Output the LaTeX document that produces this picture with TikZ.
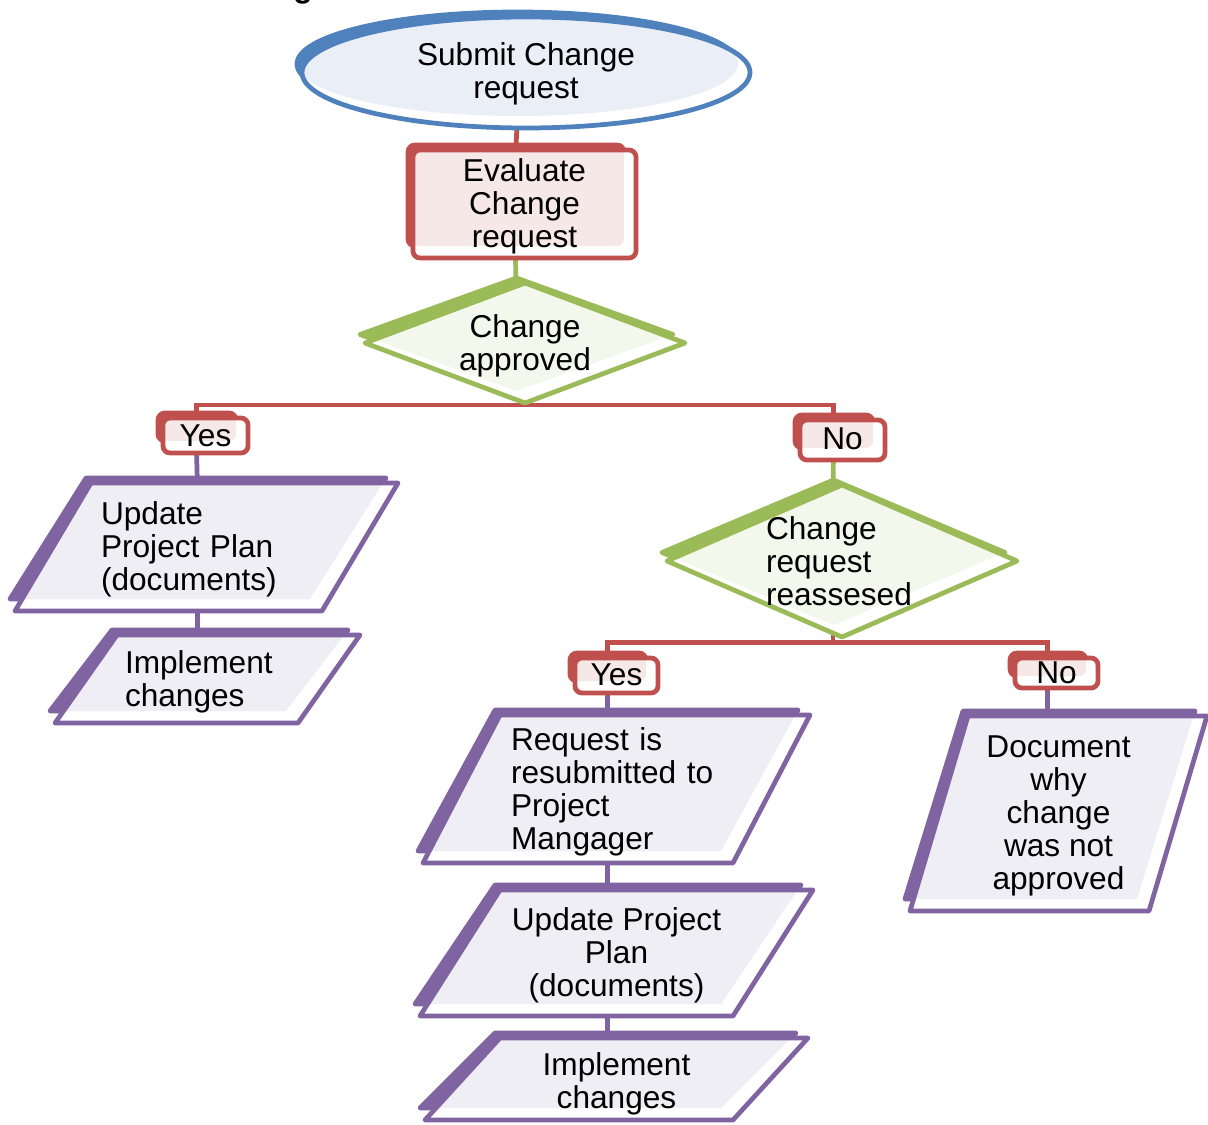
\documentclass[tikz,border=0pt]{standalone}
\usepackage{fontspec}
\setmainfont{Liberation Sans}
\usetikzlibrary{calc}
\pgfdeclarelayer{conn}
\pgfdeclarelayer{deco}
\pgfsetlayers{conn,deco,main}
\definecolor{paraCol}{HTML}{8064A2}
\definecolor{paraLight}{HTML}{F0EEF5}
\definecolor{diaCol}{HTML}{9BBB59}
\definecolor{diaLight}{HTML}{F3F7EC}
\definecolor{ellCol}{HTML}{4F81BD}
\definecolor{ellLight}{HTML}{EAEFF7}
\definecolor{rectCol}{HTML}{C0504D}
\definecolor{rectLight}{HTML}{F7E8E8}
\newcommand\lwd{0.095cm}
\newcommand\paraPath[6]{\path[#6] ({(#1)+(#5)},{#2}) -- ({#3},{#2}) -- ({(#3)-(#5)},{#4}) -- ({#1},{#4}) -- cycle;}
\newcommand\diaPath[6]{\path[#6] ({((#1)+(#3))/2},{#2}) -- ({#3},{((#2)+(#4))/2}) -- ({((#1)+(#3))/2},{#4}) -- ({#1},{((#2)+(#4))/2}) -- cycle;}
\newcommand\ellPath[6]{\path[#6] ({((#1)+(#3))/2},{((#2)+(#4))/2}) ellipse [x radius={((#3)-(#1))/2*0.02cm}, y radius={((#4)-(#2))/2*0.02cm}];}
\newcommand\rectPath[6]{\path[#6, rounded corners=0.14cm] ({#1},{#2}) rectangle ({#3},{#4});}
\newcommand\Deco[8]{%
  \begin{pgfonlayer}{deco}
    #1{(#2)-5}{(#3)-5}{(#4)-12}{(#5)-12}{#6}{fill=#7,draw=#7,line width=\lwd,line join=round}
    #1{#2}{#3}{#4}{#5}{#6}{fill=white}
    \begin{scope}
      #1{#2}{#3}{#4}{#5}{#6}{clip}
      #1{(#2)-5}{(#3)-5}{(#4)-12}{(#5)-12}{#6}{fill=#8}
    \end{scope}
    #1{#2}{#3}{#4}{#5}{#6}{draw=#7,line width=\lwd,line join=round}
  \end{pgfonlayer}}
\newcommand\FShape[9]{%
  \Deco{\csname #1Path\endcsname}{#3}{#4}{#5}{#6}{#7}{#1Col}{#1Light}%
  \node[lbl, minimum width={((#5)-(#3))*0.02cm}, minimum height={((#6)-(#4)-5)*0.02cm}, #8] (#2) at ({((#3)+(#5))/2},{((#4)+(#6))/2+2.5}) {#9};}
\tikzset{
  lbl/.style={inner sep=0pt, outer sep=0pt, font=\fontsize{18}{18.8}\selectfont, text=black},
  cline/.style={line width=\lwd},
}
\begin{document}
\begin{tikzpicture}[x=0.02cm, y=-0.02cm]
\useasboundingbox (0,0) rectangle (1208,1125);
\node[font=\bfseries\fontsize{18}{22}\selectfont, anchor=base west, inner sep=0pt] (title) at (293,-2) {g};
\FShape{ell}{submit}{302}{17}{750}{128}{0}{align=center, yshift=0.03cm}{Submit Change\\request}
\FShape{rect}{eval}{413}{150}{636}{258}{0}{align=center}{Evaluate\\Change\\request}
\FShape{dia}{approve}{365}{283}{685}{403}{0}{align=center}{Change\\approved}
\FShape{rect}{yes1}{163}{418}{248}{453}{0}{align=center, yshift=0.05cm}{Yes}
\FShape{rect}{no1}{800}{420}{885}{460}{0}{align=center, yshift=0.07cm}{No}
\FShape{para}{upd1}{15}{483}{398}{611}{76}{align=left,text width=4.22cm}{Update\\Project Plan\\(documents)}
\FShape{para}{impl1}{55}{635}{360}{723}{62}{align=left,text width=3.3cm}{Implement\\changes}
\FShape{dia}{reassess}{667}{485}{1017}{637}{0}{align=left,text width=3.04cm, yshift=0.05cm}{Change\\request\\reassesed}
\FShape{rect}{yes2}{575}{658}{658}{693}{0}{align=center, yshift=0.07cm}{Yes}
\FShape{rect}{no2}{1015}{658}{1098}{688}{0}{align=center, yshift=0.05cm}{No}
\FShape{para}{req}{423}{715}{810}{863}{77}{align=left,text width=4.22cm}{Request is\\resubmitted to\\Project\\Mangager}
\FShape{para}{upd2}{420}{890}{813}{1016}{80}{align=center}{Update Project\\Plan\\(documents)}
\FShape{para}{impl2}{425}{1038}{808}{1120}{75}{align=center, yshift=-0.05cm}{Implement\\changes}
\FShape{para}{doc}{910}{716}{1207}{911}{58}{align=center}{Document\\why\\change\\was not\\approved}
\begin{pgfonlayer}{conn}
\draw[cline, rectCol] ($(submit.south)+(-9,0)$) -- ($(eval.north)+(-9,0)$);
\draw[cline, diaCol] ($(eval.south)+(-9,0)$) -- ($(approve.north)+(-9,0)$);
\coordinate (j1) at ($(approve.south)+(0,2)$);
\draw[cline, rectCol] (approve.south) -- (j1);
\draw[cline, rectCol] ($(yes1.north)+(-9,0)$) |- (j1) -| ($(no1.north)+(-9,0)$);
\draw[cline, paraCol] ($(yes1.south)+(-9,0)$) -- ($(upd1.north)+(-9,0)$);
\draw[cline, paraCol] ($(upd1.south)+(-9,0)$) |- (impl1.north);
\draw[cline, diaCol] ($(no1.south)+(-9,0)$) -- ($(reassess.north)+(-9,0)$);
\coordinate (j2) at ($(reassess.south)+(-9,8)$);
\draw[cline, rectCol] ($(reassess.south)+(-9,0)$) -- (j2);
\draw[cline, rectCol] ($(yes2.north)+(-9,0)$) |- (j2) -| ($(no2.north)+(-9,0)$);
\draw[cline, paraCol] ($(yes2.south)+(-9,0)$) -- ($(req.north)+(-9,0)$);
\draw[cline, paraCol] ($(req.south)+(-9,0)$) -- ($(upd2.north)+(-9,0)$);
\draw[cline, paraCol] ($(upd2.south)+(-9,0)$) -- ($(impl2.north)+(-9,0)$);
\draw[cline, paraCol] ($(no2.south)+(-9,0)$) -- ($(doc.north)+(-11,0)$);
\end{pgfonlayer}
\end{tikzpicture}
\end{document}
